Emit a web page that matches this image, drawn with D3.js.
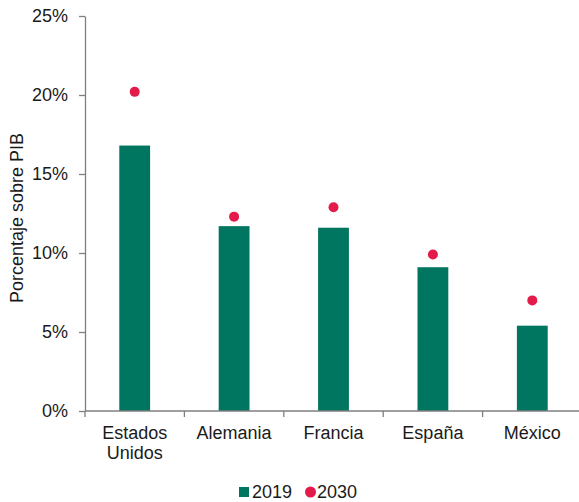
<!DOCTYPE html>
<html>
<head>
<meta charset="utf-8">
<script src="https://cdn.jsdelivr.net/npm/d3@7/dist/d3.min.js"></script>
<style>
  body { margin: 0; background: #fff; }
  svg { display: block; font-family: "Liberation Sans", Arial, sans-serif; }
</style>
</head>
<body>
<svg id="chart" width="579" height="502"></svg>
<script>
// Gasto como porcentaje del PIB, 2019 frente a proyección 2030
const categories = [["Estados", "Unidos"], ["Alemania"], ["Francia"], ["España"], ["México"]];
const values2019 = [16.8, 11.7, 11.6, 9.1, 5.4];
const values2030 = [20.2, 12.3, 12.9, 9.9, 7.0];
const yTicks = [0, 5, 10, 15, 20, 25];
const seriesNames = ["2019", "2030"];

const barColor = "#00755F";
const dotColor = "#E21B4B";
const axisColor = "#7f7f7f";
const fontSize = 18;

const svg = d3.select("#chart");
const keys = categories.map(c => c.join(" "));

const x = d3.scaleBand().domain(keys).range([85, 582]).paddingInner(0).paddingOuter(0);
const y = d3.scaleLinear().domain([0, 25]).range([411, 16]);
const barW = x.bandwidth() * 0.31;

// Barras 2019
svg.append("g").selectAll("rect")
  .data(values2019)
  .join("rect")
  .attr("x", (d, i) => x(keys[i]) + x.bandwidth() / 2 - barW / 2)
  .attr("y", d => y(d))
  .attr("width", barW)
  .attr("height", d => y(0) - y(d))
  .attr("fill", barColor);

// Puntos 2030
svg.append("g").selectAll("circle")
  .data(values2030)
  .join("circle")
  .attr("cx", (d, i) => x(keys[i]) + x.bandwidth() / 2)
  .attr("cy", d => y(d))
  .attr("r", 5)
  .attr("fill", dotColor);

// Eje Y
const yAxis = svg.append("g")
  .attr("transform", "translate(85,0)")
  .call(d3.axisLeft(y).tickValues(yTicks).tickFormat(d => d + "%").tickSize(6).tickSizeOuter(0).tickPadding(11));
yAxis.select(".domain").attr("stroke", axisColor).attr("stroke-width", 1.3);
yAxis.selectAll(".tick line").attr("stroke", axisColor).attr("stroke-width", 1.3);
yAxis.selectAll(".tick text").attr("fill", "#1a1a1a").style("font-size", fontSize + "px").style("font-family", "Liberation Sans, Arial, sans-serif");

// Eje X: línea base y marcas entre categorías
const xAxis = svg.append("g");
xAxis.append("line")
  .attr("x1", 85).attr("x2", 579)
  .attr("y1", y(0)).attr("y2", y(0))
  .attr("stroke", axisColor).attr("stroke-width", 1.3);
const boundaries = keys.map(k => x(k)).concat([x(keys[keys.length - 1]) + x.bandwidth()]);
xAxis.selectAll("line.tick")
  .data(boundaries)
  .join("line")
  .attr("class", "tick")
  .attr("x1", d => d).attr("x2", d => d)
  .attr("y1", y(0)).attr("y2", y(0) + 6)
  .attr("stroke", axisColor).attr("stroke-width", 1.3);

const labels = xAxis.selectAll("text.cat")
  .data(categories)
  .join("text")
  .attr("class", "cat")
  .attr("text-anchor", "middle")
  .attr("fill", "#1a1a1a")
  .style("font-size", fontSize + "px");
labels.each(function (lines, i) {
  const t = d3.select(this);
  lines.forEach((line, j) => {
    t.append("tspan")
      .attr("x", x(keys[i]) + x.bandwidth() / 2)
      .attr("y", 439 + j * 20)
      .text(line);
  });
});

// Título del eje Y
svg.append("text")
  .attr("transform", "translate(23,218) rotate(-90)")
  .attr("text-anchor", "middle")
  .attr("fill", "#1a1a1a")
  .style("font-size", fontSize + "px")
  .text("Porcentaje sobre PIB");

// Leyenda
const legend = svg.append("g");
legend.append("rect")
  .attr("x", 239).attr("y", 487)
  .attr("width", 10).attr("height", 10)
  .attr("fill", barColor);
legend.append("text")
  .attr("x", 252).attr("y", 498)
  .attr("fill", "#1a1a1a")
  .style("font-size", fontSize + "px")
  .text(seriesNames[0]);
legend.append("circle")
  .attr("cx", 310.5).attr("cy", 492)
  .attr("r", 5.5)
  .attr("fill", dotColor);
legend.append("text")
  .attr("x", 317).attr("y", 498)
  .attr("fill", "#1a1a1a")
  .style("font-size", fontSize + "px")
  .text(seriesNames[1]);
</script>
</body>
</html>
